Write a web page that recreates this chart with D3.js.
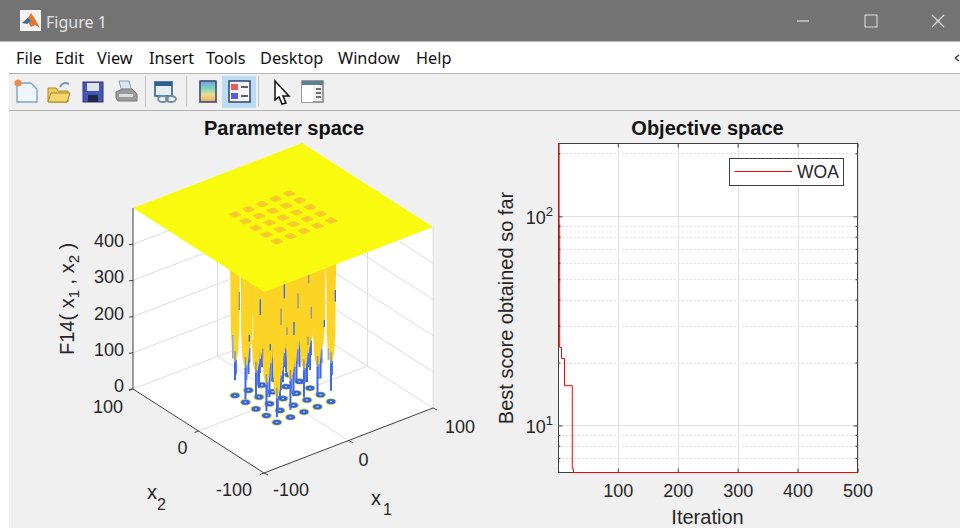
<!DOCTYPE html>
<meta charset="utf-8" />
<title>Figure 1</title>
<style>
  html, body { margin: 0; background: #fff; overflow: hidden; }
  svg { display: block; }
  text { font-family: "Liberation Sans", sans-serif; fill: #262626; }
  .chrome text { font-family: "Noto Sans", sans-serif; }
</style>
<body>
<svg width="960" height="531"></svg>
<script src="https://d3js.org/d3.v7.min.js"></script>
<script>
// right panel: convergence curve
const iterations = [1, 2, 3, 6, 11, 24, 26, 500];
const bestScore = [223, 91.5, 23.6, 20.9, 15.5, 6.2, 5.96, 5.96];
const iterTicks = [100, 200, 300, 400, 500];
const scoreMajor = [10, 100];
const scoreMinor = [6, 7, 8, 9, 20, 30, 40, 50, 60, 70, 80, 90, 200];

// left panel: foxhole wells
const wellCentres = [-32, -16, 0, 16, 32];
// rows are x1, columns x2
const wellOrangeEnd = [
  [66, 85, 100, 95, 92],
  [100, 90, 105, 100, 110],
  [115, 100, 120, 110, 115],
  [110, 125, 115, 120, 110],
  [106, 120, 125, 115, 112]
];
const wellTip = [
  [14, 12, 30, 8, 42],
  [20, 35, 18, 25, 45],
  [40, 25, 45, 30, 50],
  [35, 50, 35, 40, 45],
  [30, 45, 50, 40, 45]
];
const surfaceTop = 500;
const zTicks = [0, 100, 200, 300, 400];
const x1Ticks = [-100, 0, 100];
const x2Ticks = [-100, 0, 100];
// mesh artefacts on the columns
const streakX1 = [-51.7, 1.6, 30.4, 17.8, -26.9, -2.4, 33.5, 13, 4.7, 48.9, 61.9, -39.9, -15, 29.6, -24, -59.5, 53.6, -35.9];
const streakTop = [341, 317, 317, 275, 298, 251, 223, 200, 192, 173, 244, 211, 164, 144, 160, 229, 90, 258];
const streakBottom = [291, 275, 291, 233, 255, 205, 191, 164, 171, 153, 212, 193, 146, 121, 133, 164, 58, 194];
const streakKind = ["grey", "blue", "grey", "grey", "blue", "grey", "grey", "blue", "grey", "blue", "blue", "blue", "blue", "grey", "grey", "light", "light", "pale"];
const streakColor = { grey: "#8f93a8", blue: "#3f68e4", light: "#8ea6ec", pale: "#fbe98c" };

const menuItems = ["File", "Edit", "View", "Insert", "Tools", "Desktop", "Window", "Help"];
const menuX = [16, 55, 97, 149, 206, 260, 338, 416];

const svg = d3.select("svg");
const defs = svg.append("defs");

// ---- window chrome
const chrome = svg.append("g").attr("class", "chrome");
chrome.append("rect").attr("x", 9).attr("y", 42).attr("width", 951).attr("height", 486).attr("fill", "#f0f0f0");
chrome.append("rect").attr("width", 960).attr("height", 41.5).attr("fill", "#737373");
chrome.append("rect").attr("x", 9).attr("y", 42).attr("width", 951).attr("height", 31).attr("fill", "#fff");
chrome.append("rect").attr("x", 9).attr("y", 73).attr("width", 951).attr("height", 1).attr("fill", "#b4b4b4");
chrome.append("rect").attr("x", 9).attr("y", 110).attr("width", 951).attr("height", 1).attr("fill", "#b4b4b4");

chrome.append("rect").attr("x", 20).attr("y", 10).attr("width", 21).attr("height", 21).attr("fill", "#f4f4f4");
chrome.append("path").attr("d", "M22 23 L28 18 L31 13 L35 19 L40 28 L35 25 L31 27 L28 22 Z").attr("fill", "#e2762a");
chrome.append("path").attr("d", "M22 23 L28 18 L31 21 L27 24 Z").attr("fill", "#3a6ea5");
chrome.append("text").attr("x", 46).attr("y", 28).attr("font-size", 16).style("fill", "#e4e4e4").text("Figure 1");
chrome.append("path").attr("d", "M797 21 H809").attr("stroke", "#c8c8c8").attr("stroke-width", 1.5);
chrome.append("rect").attr("x", 865).attr("y", 15).attr("width", 12).attr("height", 12).attr("fill", "none").attr("stroke", "#e0e0e0");
chrome.append("path").attr("d", "M932 15 L944 27 M944 15 L932 27").attr("stroke", "#e0e0e0").attr("stroke-width", 1.2);
chrome.append("path").attr("d", "M955 58 L959 55 M955 58 L959 61").attr("stroke", "#333").attr("stroke-width", 1.4);

chrome.selectAll("text.menu").data(menuItems).join("text")
  .attr("class", "menu")
  .attr("x", (d, i) => menuX[i])
  .attr("y", 64)
  .attr("font-size", 16.3)
  .style("fill", "#111")
  .text(d => d);

defs.append("filter").attr("id", "soft")
  .append("feGaussianBlur").attr("stdDeviation", 0.45);
const icons = chrome.append("g").attr("filter", "url(#soft)");

// highlight and separators
icons.append("rect").attr("x", 222).attr("y", 76).attr("width", 34).attr("height", 32).attr("fill", "#bcdcf4");
[145, 186, 258].forEach(x => icons.append("rect").attr("x", x).attr("y", 76).attr("width", 1).attr("height", 31).attr("fill", "#c4c4c4"));
// new
icons.append("path").attr("d", "M17 83 H31 L37 89 V102 H17 Z").attr("fill", "#eef5fc").attr("stroke", "#7fa3c8").attr("stroke-width", 1.4);
icons.append("circle").attr("cx", 18).attr("cy", 83).attr("r", 3.5).attr("fill", "#ee8a4a");
// open
icons.append("path").attr("d", "M48 88 H56 L58 91 H68 V102 H48 Z").attr("fill", "#f2cc5e").attr("stroke", "#a8862c");
icons.append("path").attr("d", "M48 102 L51 93 H70 L67 102 Z").attr("fill", "#f7d66e").attr("stroke", "#a8862c");
icons.append("path").attr("d", "M60 87 Q63 81 69 84").attr("fill", "none").attr("stroke", "#7f97ad").attr("stroke-width", 2);
// save
icons.append("rect").attr("x", 83).attr("y", 82).attr("width", 20).attr("height", 20).attr("fill", "#4654b4").attr("stroke", "#2c3480");
icons.append("rect").attr("x", 87).attr("y", 83).attr("width", 12).attr("height", 8).attr("fill", "#dfe4f4");
icons.append("rect").attr("x", 88).attr("y", 95).attr("width", 10).attr("height", 7).attr("fill", "#23264a");
// print
icons.append("path").attr("d", "M119 81 H129 L132 92 H122 Z").attr("fill", "#dbe6f2").attr("stroke", "#8d9aa8");
icons.append("path").attr("d", "M116 92 L122 89 H132 L137 94 V101 H118 L116 98 Z").attr("fill", "#9a9a9a").attr("stroke", "#777");
icons.append("rect").attr("x", 119).attr("y", 94).attr("width", 14).attr("height", 3).attr("fill", "#ddd");
// link
icons.append("rect").attr("x", 155).attr("y", 82).attr("width", 17).attr("height", 14).attr("fill", "#e7eef6").attr("stroke", "#2f5f8f").attr("stroke-width", 1.6);
icons.append("rect").attr("x", 155).attr("y", 82).attr("width", 17).attr("height", 4).attr("fill", "#2f5f8f");
icons.append("ellipse").attr("cx", 163).attr("cy", 99).attr("rx", 5).attr("ry", 3).attr("fill", "none").attr("stroke", "#7189a6").attr("stroke-width", 1.8);
icons.append("ellipse").attr("cx", 171).attr("cy", 99).attr("rx", 5).attr("ry", 3).attr("fill", "none").attr("stroke", "#7189a6").attr("stroke-width", 1.8);
// colorbar
const barGrad = defs.append("linearGradient").attr("id", "bar").attr("x1", 0).attr("x2", 0).attr("y1", 0).attr("y2", 1);
[["0%", "#6fa4e0"], ["35%", "#7fd0c0"], ["65%", "#e8e08c"], ["100%", "#f3a65c"]].forEach(s => barGrad.append("stop").attr("offset", s[0]).attr("stop-color", s[1]));
icons.append("rect").attr("x", 200).attr("y", 81).attr("width", 16).attr("height", 21).attr("fill", "url(#bar)").attr("stroke", "#3c4a78").attr("stroke-width", 1.6);
// legend
icons.append("rect").attr("x", 229).attr("y", 81).attr("width", 21).attr("height", 21).attr("fill", "#f4f6fa").attr("stroke", "#3c4a78").attr("stroke-width", 1.6);
icons.append("rect").attr("x", 231).attr("y", 84).attr("width", 7).attr("height", 6).attr("fill", "#e85a5a");
icons.append("rect").attr("x", 231).attr("y", 93).attr("width", 7).attr("height", 6).attr("fill", "#5a5ae8");
icons.append("path").attr("d", "M241 87 H248 M241 96 H248").attr("stroke", "#333").attr("stroke-width", 1.6);
// cursor
icons.append("path").attr("d", "M275 81 L289 96 H283 L286 103 L282 104 L279 97 L275 100 Z").attr("fill", "#fff").attr("stroke", "#111").attr("stroke-width", 1.5);
// panel
icons.append("rect").attr("x", 302).attr("y", 81).attr("width", 21).attr("height", 21).attr("fill", "#f2f2f2").attr("stroke", "#777").attr("stroke-width", 1.4);
icons.append("rect").attr("x", 302).attr("y", 81).attr("width", 21).attr("height", 4).attr("fill", "#5a7f95");
icons.append("rect").attr("x", 302).attr("y", 85).attr("width", 11).attr("height", 17).attr("fill", "#fff");
icons.append("path").attr("d", "M316 89 H321 M316 93 H321 M316 97 H321").attr("stroke", "#444").attr("stroke-width", 1.4);

// ---- left panel, orthographic projection of the MATLAB view
const x1PxX = d3.scaleLinear().domain([-100, 100]).range([264, 433]);
const x1PxY = d3.scaleLinear().domain([-100, 100]).range([473, 408]);
const x2PxX = d3.scaleLinear().domain([-100, 100]).range([0, -131]);
const x2PxY = d3.scaleLinear().domain([-100, 100]).range([0, -84]);
const zPx = d3.scaleLinear().domain([0, surfaceTop]).range([0, -181]);

function project(x1, x2, z) {
  return [x1PxX(x1) + x2PxX(x2), x1PxY(x1) + x2PxY(x2) + zPx(z)];
}

const polygon = d3.line().curve(d3.curveLinearClosed);
const left = svg.append("g");

function line3(g, a, b, color, width) {
  const p = project(...a), q = project(...b);
  return g.append("line")
    .attr("x1", p[0]).attr("y1", p[1])
    .attr("x2", q[0]).attr("y2", q[1])
    .attr("stroke", color)
    .attr("stroke-width", width);
}

// walls and floor
left.append("path")
  .attr("d", polygon([
    project(-100, 100, surfaceTop), project(100, 100, surfaceTop), project(100, -100, surfaceTop),
    project(100, -100, 0), project(-100, -100, 0), project(-100, 100, 0)
  ]))
  .attr("fill", "#fff");

const gridColor = "#dedede";
[100, 200, 300, 400].concat([0]).forEach(z => {
  line3(left, [-100, 100, z], [100, 100, z], gridColor, 1);
  line3(left, [100, 100, z], [100, -100, z], gridColor, 1);
});
line3(left, [0, 100, 0], [0, 100, surfaceTop], gridColor, 1);
line3(left, [100, 0, 0], [100, 0, surfaceTop], gridColor, 1);
line3(left, [100, 100, 0], [100, 100, surfaceTop], gridColor, 1);
line3(left, [100, -100, 0], [100, -100, surfaceTop], gridColor, 1);
line3(left, [0, -100, 0], [0, 100, 0], gridColor, 1);
line3(left, [-100, 0, 0], [100, 0, 0], gridColor, 1);

// floor contour rings
const rings = [];
wellCentres.forEach((cx, i) => wellCentres.forEach((cy, j) => rings.push({ cx, cy, i, j })));
rings.sort((a, b) => (b.cx + b.cy) - (a.cx + a.cy));

const ringG = left.append("g");
const ringBands = [
  { rx: 5.6, ry: 3.4, fill: "#f0dc3a" },
  { rx: 4.6, ry: 2.7, fill: "#3aa8b8" },
  { rx: 4.0, ry: 2.3, fill: "#3a5ce4" },
  { rx: 1.2, ry: 0.7, fill: "#c5d8f8" }
];
rings.forEach(w => {
  const p = project(w.cx, w.cy, 0);
  ringBands.forEach(b => {
    ringG.append("ellipse").attr("cx", p[0]).attr("cy", p[1]).attr("rx", b.rx).attr("ry", b.ry).attr("fill", b.fill);
  });
});

// columns, back to front
const columns = left.append("g");
const profileZ = [500, 320, 190];
const profileR = [4.5, 3.1, 2.9];
rings.forEach(w => {
  const end = wellOrangeEnd[w.i][w.j];
  const tip = wellTip[w.i][w.j];
  const levels = profileZ.map((z, k) => ({ z, r: profileR[k] })).concat([{ z: end + 25, r: 2 }, { z: end, r: 0.5 }]);
  const outline = levels.map(l => project(w.cx - l.r, w.cy + l.r, l.z))
    .concat(levels.slice().reverse().map(l => project(w.cx + l.r, w.cy - l.r, l.z)));
  columns.append("path").attr("d", polygon(outline)).attr("fill", "#fbd426");
  line3(columns, [w.cx, w.cy, end + 30], [w.cx, w.cy, end - 5], "#8f93a8", 1.5);
  line3(columns, [w.cx, w.cy, end], [w.cx, w.cy, tip], "#3f68e4", 2);
  line3(columns, [w.cx + 1.6, w.cy, end + 5], [w.cx + 1.6, w.cy, Math.max(tip, end - 35)], "#4a74ea", 1.2);
});

// streaks
streakX1.forEach((x1, i) => {
  line3(columns, [x1, 0, streakTop[i]], [x1, 0, streakBottom[i]], streakColor[streakKind[i]], 1.4);
});

// clipped top of the surface with the foxholes printed on it
left.append("path")
  .attr("d", polygon([
    project(-100, -100, surfaceTop), project(100, -100, surfaceTop),
    project(100, 100, surfaceTop), project(-100, 100, surfaceTop)
  ]))
  .attr("fill", "#f9fb0f");

const holeR = 4.8;
rings.forEach(w => {
  const s = holeR, c = s * 0.72;
  // square with trimmed corners, reads as a soft diamond in this view
  left.append("path")
    .attr("d", polygon([
      project(w.cx - s, w.cy - c, surfaceTop), project(w.cx - c, w.cy - s, surfaceTop),
      project(w.cx + c, w.cy - s, surfaceTop), project(w.cx + s, w.cy - c, surfaceTop),
      project(w.cx + s, w.cy + c, surfaceTop), project(w.cx + c, w.cy + s, surfaceTop),
      project(w.cx - c, w.cy + s, surfaceTop), project(w.cx - s, w.cy + c, surfaceTop)
    ]))
    .attr("fill", "#f9cd28");
  left.append("path")
    .attr("d", polygon([
      project(w.cx, w.cy - 2.5, surfaceTop), project(w.cx + 2.5, w.cy, surfaceTop), project(w.cx, w.cy + 2.5, surfaceTop), project(w.cx - 2.5, w.cy, surfaceTop)
    ]))
    .attr("fill", "#f7c42c");
});

// axes
const axisColor = "#404040";
line3(left, [-100, 100, 0], [-100, 100, surfaceTop], axisColor, 1);
line3(left, [-100, 100, 0], [-100, -100, 0], axisColor, 1);
line3(left, [-100, -100, 0], [100, -100, 0], axisColor, 1);

zTicks.forEach(z => {
  const p = project(-100, 100, z);
  left.append("line").attr("x1", p[0] - 4).attr("y1", p[1] + 0.5).attr("x2", p[0]).attr("y2", p[1]).attr("stroke", axisColor);
  left.append("text").attr("x", p[0] - 9).attr("y", p[1] + 3).attr("text-anchor", "end").attr("font-size", 18).text(z);
});
const x2LabelPos = { "100": [-10, 24], "0": [-11, 23], "-100": [-12, 23] };
x2Ticks.forEach(t => {
  const p = project(-100, t, 0);
  left.append("line").attr("x1", p[0]).attr("y1", p[1]).attr("x2", p[0] - 4).attr("y2", p[1] + 1.5).attr("stroke", axisColor);
  left.append("text").attr("x", p[0] + x2LabelPos[t][0]).attr("y", p[1] + x2LabelPos[t][1]).attr("text-anchor", "end").attr("font-size", 18).text(t);
});
const x1LabelPos = { "-100": [9, 23], "0": [10, 25], "100": [12, 25] };
x1Ticks.forEach(t => {
  const p = project(t, -100, 0);
  left.append("line").attr("x1", p[0]).attr("y1", p[1]).attr("x2", p[0] + 4).attr("y2", p[1] + 2).attr("stroke", axisColor);
  left.append("text").attr("x", p[0] + x1LabelPos[t][0]).attr("y", p[1] + x1LabelPos[t][1]).attr("font-size", 18).text(t);
});

function subLabel(x, y, sub, sx, sy) {
  left.append("text").attr("x", x).attr("y", y).attr("font-size", 20).text("x");
  left.append("text").attr("x", sx).attr("y", sy).attr("font-size", 16).text(sub);
}
subLabel(147, 499, "2", 157, 510);
subLabel(371, 505, "1", 383, 515);

const zLabel = left.append("text").attr("transform", "translate(74,355) rotate(-90)").attr("font-size", 20);
zLabel.append("tspan").text("F14( x");
zLabel.append("tspan").attr("font-size", 15).attr("dy", 5).text("1");
zLabel.append("tspan").attr("dy", -5).text(" , x");
zLabel.append("tspan").attr("font-size", 15).attr("dy", 5).text("2");
zLabel.append("tspan").attr("dy", -5).text(" )");

left.append("text").attr("x", 284).attr("y", 135).attr("text-anchor", "middle")
  .attr("font-size", 20).attr("font-weight", "bold").style("fill", "#111")
  .text("Parameter space");

// ---- right panel
const x = d3.scaleLinear().domain([1, 500]).range([558.5, 857.5]);
const y = d3.scaleLog().domain([5.96, 223]).range([472.5, 143.5]);
const right = svg.append("g");

right.append("rect").attr("x", 558.5).attr("y", 143.5).attr("width", 299).attr("height", 329).attr("fill", "#fff");

right.selectAll("line.minor").data(scoreMinor).join("line")
  .attr("class", "minor")
  .attr("x1", 558.5).attr("x2", 857.5)
  .attr("y1", d => Math.round(y(d)) + 0.5).attr("y2", d => Math.round(y(d)) + 0.5)
  .attr("stroke", "#bdbdbd").attr("stroke-dasharray", "1 3");
right.selectAll("line.major").data(scoreMajor).join("line")
  .attr("class", "major")
  .attr("x1", 558.5).attr("x2", 857.5)
  .attr("y1", d => Math.round(y(d)) + 0.5).attr("y2", d => Math.round(y(d)) + 0.5)
  .attr("stroke", "#e0e0e0");
right.selectAll("line.vgrid").data(iterTicks).join("line")
  .attr("class", "vgrid")
  .attr("x1", d => Math.round(x(d)) + 0.5).attr("x2", d => Math.round(x(d)) + 0.5)
  .attr("y1", 143.5).attr("y2", 472.5)
  .attr("stroke", "#e0e0e0");

// ticks on all four sides, MATLAB box style
const xAxis = right.append("g").attr("transform", "translate(0,472.5)")
  .call(d3.axisBottom(x).tickValues(iterTicks).tickSize(-4).tickPadding(12));
const xAxisTop = right.append("g").attr("transform", "translate(0,143.5)")
  .call(d3.axisTop(x).tickValues(iterTicks).tickSize(-4).tickFormat(""));
const yAxis = right.append("g").attr("transform", "translate(558.5,0)")
  .call(d3.axisLeft(y).tickValues(scoreMajor).tickSize(-4).tickFormat(""));
const yAxisMinor = right.append("g").attr("transform", "translate(558.5,0)")
  .call(d3.axisLeft(y).tickValues(scoreMinor).tickSize(-2).tickFormat(""));
const yAxisRight = right.append("g").attr("transform", "translate(857.5,0)")
  .call(d3.axisRight(y).tickValues(scoreMajor).tickSize(-4).tickFormat(""));
const yAxisRightMinor = right.append("g").attr("transform", "translate(857.5,0)")
  .call(d3.axisRight(y).tickValues(scoreMinor).tickSize(-2).tickFormat(""));
[xAxis, xAxisTop, yAxis, yAxisMinor, yAxisRight, yAxisRightMinor].forEach(a => {
  a.selectAll("path,line").attr("stroke", "#404040");
  a.selectAll(".domain").attr("d", null);
});
right.append("rect").attr("x", 558.5).attr("y", 143.5).attr("width", 299).attr("height", 329)
  .attr("fill", "none").attr("stroke", "#404040");
xAxis.selectAll("text").attr("font-size", 18).attr("font-family", "Liberation Sans").style("fill", "#262626");

// log labels with superscript
scoreMajor.forEach(v => {
  const t = right.append("text").attr("x", 553).attr("y", y(v) + 8).attr("text-anchor", "end").attr("font-size", 18);
  t.append("tspan").text("10");
  t.append("tspan").attr("font-size", 13).attr("dy", -8).text(Math.log10(v));
});

const curve = d3.line().curve(d3.curveStepAfter).x((d, i) => x(iterations[i])).y(d => y(d));
right.append("path").attr("d", curve(bestScore)).attr("fill", "none").attr("stroke", "#ff0000").attr("stroke-width", 1);

right.append("text").attr("x", 707.5).attr("y", 135).attr("text-anchor", "middle")
  .attr("font-size", 20).attr("font-weight", "bold").style("fill", "#111")
  .text("Objective space");
right.append("text").attr("x", 707.5).attr("y", 524).attr("text-anchor", "middle").attr("font-size", 20).text("Iteration");
right.append("text").attr("transform", "translate(513,308) rotate(-90)").attr("text-anchor", "middle").attr("font-size", 20).text("Best score obtained so far");

// legend
right.append("rect").attr("x", 729.5).attr("y", 158.5).attr("width", 114).attr("height", 27).attr("fill", "#fff").attr("stroke", "#404040");
right.append("line").attr("x1", 734.5).attr("x2", 792).attr("y1", 171.5).attr("y2", 171.5).attr("stroke", "#ff0000");
right.append("text").attr("x", 797).attr("y", 178).attr("font-size", 17.5).text("WOA");
</script>
</body>
